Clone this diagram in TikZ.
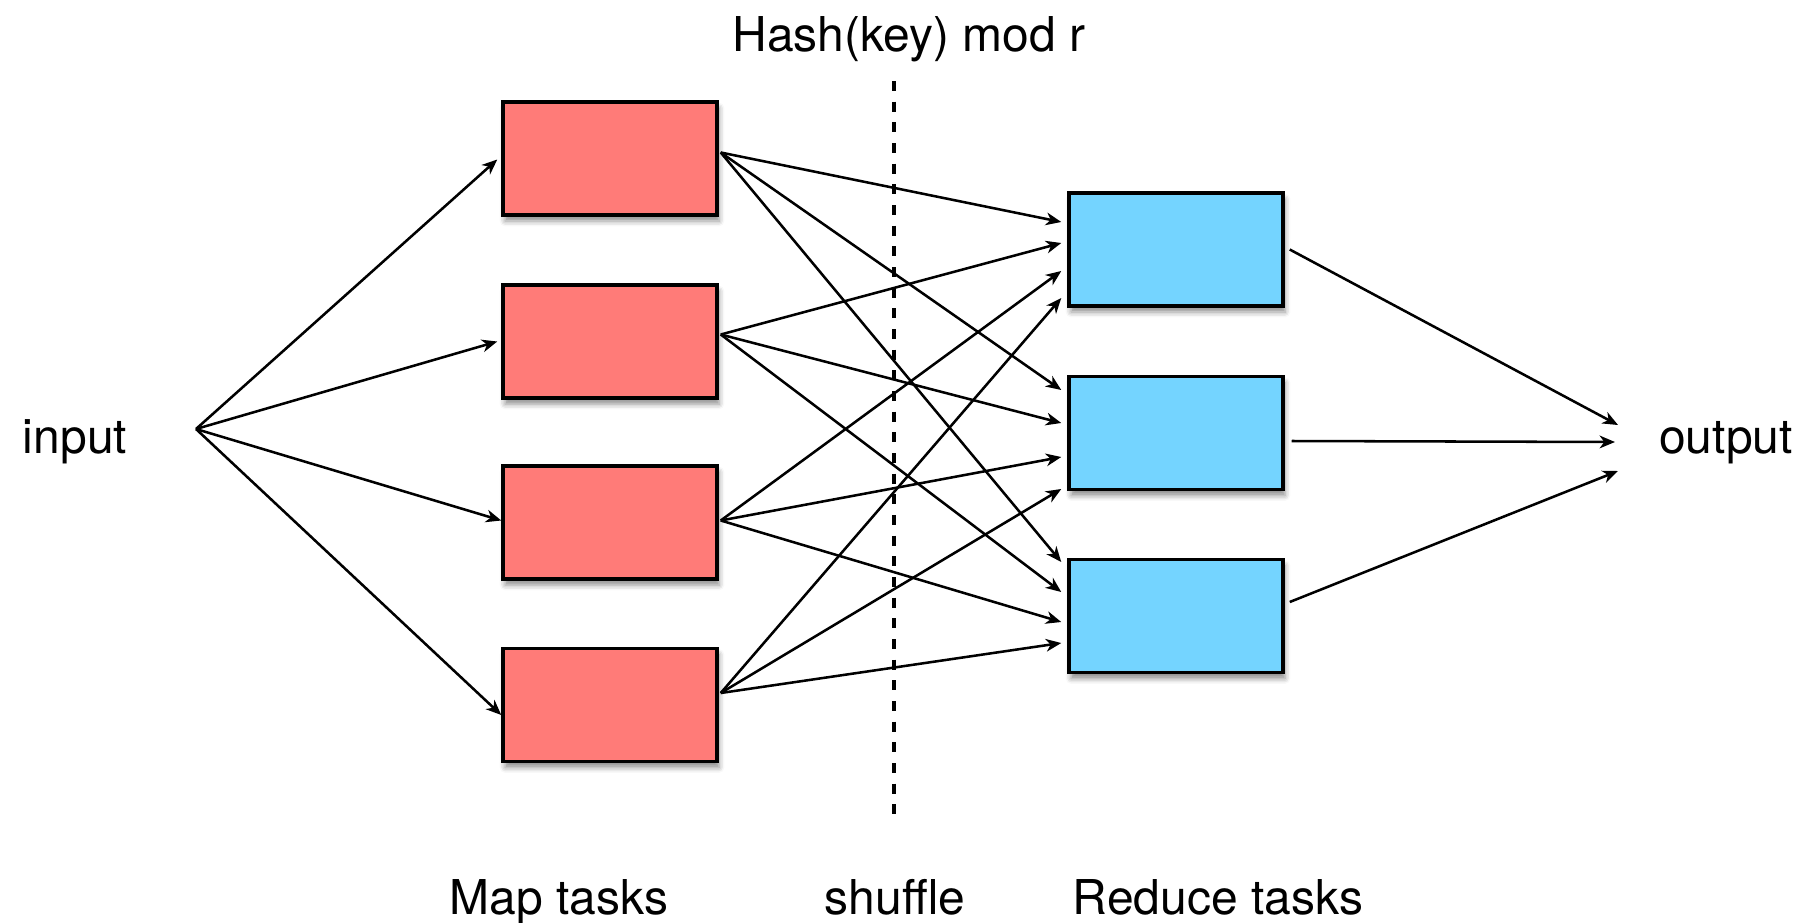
\documentclass[tikz,border=0pt]{standalone}
\usepackage{fontspec}
\setmainfont{TeX Gyre Heros}
\usepackage{xcolor}
\usetikzlibrary{arrows.meta,calc,shadows.blur}

\definecolor{mapred}{RGB}{255,123,120}
\definecolor{reduceblue}{RGB}{116,212,255}

\begin{document}
\begin{tikzpicture}[x=0.75pt,y=0.75pt,yscale=-1,xscale=1,
  task/.style={draw=black,line width=2.6pt,minimum width=160.5pt,minimum height=84.75pt,inner sep=0pt,
    blur shadow={shadow xshift=1.5pt,shadow yshift=-4.5pt,shadow blur radius=4pt,shadow opacity=45}},
  maptask/.style={task,fill=mapred},
  reducetask/.style={task,fill=reduceblue},
  flow/.style={line width=1.9pt,-{Stealth[length=11.5pt,width=9.5pt,inset=3.5pt]}},
  lbl/.style={inner sep=0pt,anchor=base,font=\fontsize{36}{43}\selectfont}]

\useasboundingbox (0,0) rectangle (1807,922);

\coordinate (cutTop) at (894,81);
\coordinate (cutBot) at (894,818);
\draw [line width=3.4pt,dash pattern=on 7.5pt off 8pt] (cutTop) -- (cutBot);

\node [maptask] (map1) at (610,158.5) {};
\node [maptask] (map2) at (610,341.5) {};
\node [maptask] (map3) at (610,522.5) {};
\node [maptask] (map4) at (610,705) {};

\node [reducetask] (red1) at (1176,249.5) {};
\node [reducetask] (red2) at (1176,433) {};
\node [reducetask] (red3) at (1176,616) {};

\node [lbl] (input) at (75,453) {input};
\node [lbl] (output) at (1726,453) {output};
\node [lbl] (hash) at (909,51) {Hash(key) mod r};
\node [lbl] (maplbl) at (559,914) {Map tasks};
\node [lbl] (shufflelbl) at (895,914) {shuffle};
\node [lbl] (reducelbl) at (1218,914) {Reduce tasks};

% input -> map tasks
\coordinate (fanIn) at (196,429);
\draw [flow] (fanIn) -- ($(map1.west)+(-4,1)$);
\draw [flow] (fanIn) -- ($(map2.west)+(-4,0)$);
\draw [flow] (fanIn) -- ($(map3.west)+(0,-2)$);
\draw [flow] (fanIn) -- ($(map4.west)+(0,10)$);

% map tasks -> reduce tasks
\coordinate (map1out) at ($(map1.east)+(2,-6)$);
\coordinate (map2out) at ($(map2.east)+(2,-7)$);
\coordinate (map3out) at ($(map3.east)+(2,-2)$);
\coordinate (map4out) at ($(map4.east)+(2,-12)$);

\draw [flow] (map1out) -- ($(red1.west)+(-6,-27.5)$);
\draw [flow] (map2out) -- ($(red1.west)+(-6,-6.5)$);
\draw [flow] (map3out) -- ($(red1.west)+(-6,21.5)$);
\draw [flow] (map4out) -- ($(red1.west)+(-6,48.5)$);

\draw [flow] (map1out) -- ($(red2.west)+(-6,-43)$);
\draw [flow] (map2out) -- ($(red2.west)+(-6,-10)$);
\draw [flow] (map3out) -- ($(red2.west)+(-6,24)$);
\draw [flow] (map4out) -- ($(red2.west)+(-6,56)$);

\draw [flow] (map1out) -- ($(red3.west)+(-6,-54)$);
\draw [flow] (map2out) -- ($(red3.west)+(-6,-24)$);
\draw [flow] (map3out) -- ($(red3.west)+(-6,6)$);
\draw [flow] (map4out) -- ($(red3.west)+(-6,27)$);

% reduce tasks -> output
\coordinate (fanOut) at (1618,442);
\draw [flow] ($(red1.east)+(5,0)$) -- ($(fanOut)+(0,-17)$);
\draw [flow] ($(red2.east)+(7,8)$) -- ($(fanOut)+(-3,0)$);
\draw [flow] ($(red3.east)+(5,-14)$) -- ($(fanOut)+(0,29)$);

\end{tikzpicture}
\end{document}
